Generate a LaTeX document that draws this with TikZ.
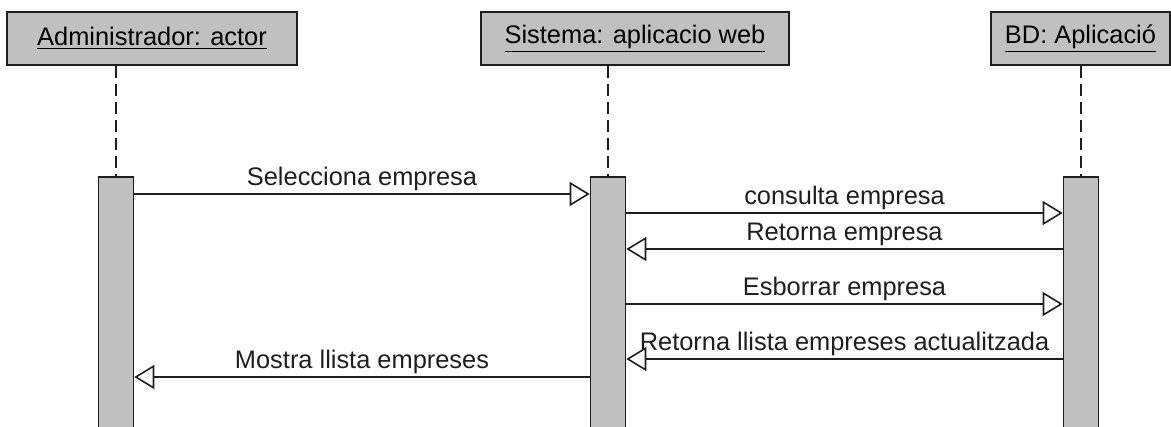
\documentclass[tikz,border=0pt]{standalone}
\usepackage{fontspec}
\setmainfont{Liberation Sans}
\usepackage{tikz}
\usetikzlibrary{arrows.meta,positioning}
\definecolor{umlgray}{HTML}{C0C0C0}
\definecolor{umlline}{HTML}{1E1E1E}

\tikzset{
  lifehead/.style={draw=umlline,fill=umlgray,line width=0.8pt,minimum height=26.5pt,inner sep=0pt,font=\fontsize{12.7}{15}\selectfont},
  actbar/.style={draw=umlline,fill=umlgray,line width=0.8pt,minimum width=17.5pt,minimum height=128pt,inner sep=0pt,anchor=north},
  lifeline/.style={draw=umlline,line width=0.8pt,dash pattern=on 6pt off 3pt},
  msg/.style={draw=umlline,line width=0.8pt,-{Triangle[open,length=10pt,width=12pt]}},
  msglabel/.style={midway,above,inner sep=1pt,text=umlline,font=\fontsize{12.7}{15}\selectfont}
}

\begin{document}
\begin{tikzpicture}[x=0.5pt,y=-0.5pt]
  \useasboundingbox (0,0) rectangle (1171,427);

  % Heads
  \node[lifehead,minimum width=145pt]  (admin)   at (152,38.5)    {\underline{Administrador: actor}};
  \node[lifehead,minimum width=154pt]  (sistema) at (635,38.5)    {\underline{Sistema: aplicacio web}};
  \node[lifehead,minimum width=89.5pt] (bd)      at (1080.5,38.5) {\underline{BD: Aplicació}};

  % Activation bars
  \node[actbar] (actA) at (116,176)  {};
  \node[actbar] (actB) at (608,176)  {};
  \node[actbar] (actC) at (1081,176) {};

  \draw[lifeline] (actA.north |- admin.south)   -- (actA.north);
  \draw[lifeline] (actB.north |- sistema.south) -- (actB.north);
  \draw[lifeline] (actC.north |- bd.south)      -- (actC.north);

  % Messages
  \coordinate (m1) at (0,194);
  \coordinate (m2) at (0,213);
  \coordinate (m3) at (0,249);
  \coordinate (m4) at (0,304);
  \coordinate (m5) at (0,359);
  \coordinate (m6) at (0,377);

  \draw[msg] (actA.east |- m1) -- node[msglabel] {Selecciona empresa} (actB.west |- m1);
  \draw[msg] (actB.east |- m2) -- node[msglabel] {consulta empresa} (actC.west |- m2);
  \draw[msg] (actC.west |- m3) -- node[msglabel] {Retorna empresa} (actB.east |- m3);
  \draw[msg] (actB.east |- m4) -- node[msglabel] {Esborrar empresa} (actC.west |- m4);
  \draw[msg] (actC.west |- m5) -- node[msglabel] {Retorna llista empreses actualitzada} (actB.east |- m5);
  \draw[msg] (actB.west |- m6) -- node[msglabel] {Mostra llista empreses} (actA.east |- m6);
\end{tikzpicture}
\end{document}
